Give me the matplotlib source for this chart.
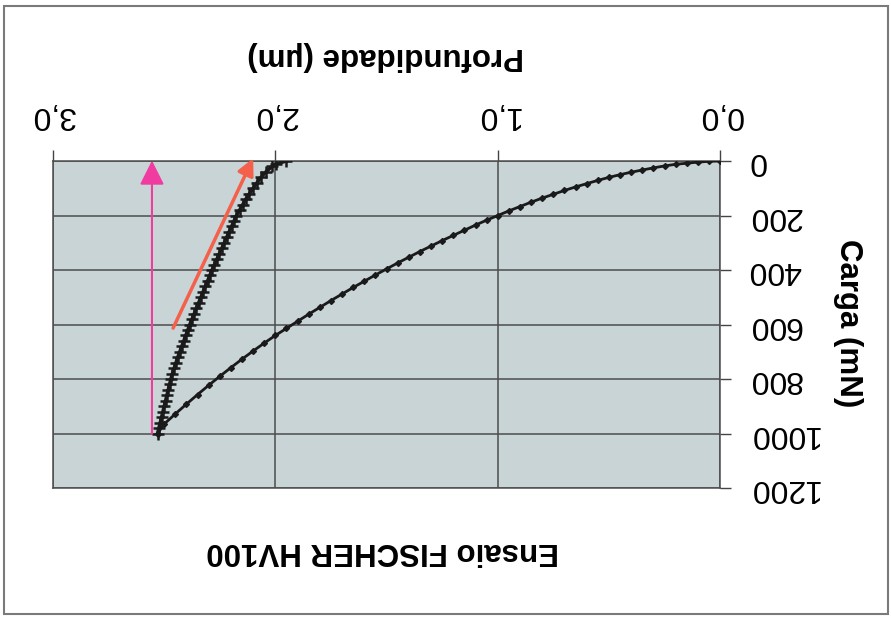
import matplotlib
matplotlib.use('Agg')
import matplotlib.pyplot as plt
from matplotlib.patches import Rectangle

# loading curve (carga crescente): depth in um, load in mN
load_depth = [0.0, 0.05, 0.10, 0.15, 0.20, 0.25, 0.30, 0.35, 0.40, 0.45,
              0.50, 0.55, 0.60, 0.65, 0.70, 0.75, 0.80, 0.85, 0.90, 0.95,
              1.00, 1.05, 1.10, 1.15, 1.20, 1.25, 1.30, 1.35, 1.40, 1.45,
              1.50, 1.55, 1.60, 1.65, 1.70, 1.75, 1.80, 1.85, 1.90, 1.95,
              2.00, 2.05, 2.10, 2.15, 2.20, 2.25, 2.30, 2.35, 2.40, 2.45,
              2.50, 2.53]
load_force = [0, 1, 4, 8, 12, 18, 25, 33, 41, 50,
              60, 71, 83, 95, 108, 122, 136, 151, 167, 183,
              200, 217, 235, 254, 273, 292, 312, 332, 353, 374,
              396, 418, 441, 464, 488, 512, 537, 562, 588, 614,
              640, 668, 697, 727, 758, 790, 823, 857, 892, 928,
              965, 1000]

# unloading curve (descarga)
unload_force = [1000, 980, 960, 940, 920, 900, 880, 860, 840, 820,
                800, 780, 760, 740, 720, 700, 680, 660, 640, 620,
                600, 580, 560, 540, 520, 500, 480, 460, 440, 420,
                400, 380, 360, 340, 320, 300, 280, 260, 240, 220,
                200, 180, 160, 140, 120, 100, 80, 60, 40, 20, 10, 0]
unload_depth = [2.530, 2.524, 2.518, 2.512, 2.506, 2.500, 2.494, 2.488, 2.482, 2.476,
                2.470, 2.463, 2.455, 2.447, 2.439, 2.430, 2.421, 2.412, 2.403, 2.394,
                2.385, 2.375, 2.365, 2.355, 2.345, 2.335, 2.325, 2.315, 2.305, 2.295,
                2.285, 2.274, 2.263, 2.252, 2.241, 2.230, 2.219, 2.208, 2.197, 2.186,
                2.175, 2.161, 2.147, 2.133, 2.117, 2.100, 2.083, 2.065, 2.043, 2.015,
                1.995, 1.950]

x_ticks = [0.0, 1.0, 2.0, 3.0]
x_labels = ['0,0', '1,0', '2,0', '3,0']
y_ticks = [0, 200, 400, 600, 800, 1000, 1200]
y_labels = ['0', '200', '400', '600', '800', '1000', '1200']

plt.rcParams['font.family'] = ['Liberation Sans', 'DejaVu Sans']

fig = plt.figure(figsize=(8.91, 6.17), dpi=100)
fig.patch.set_facecolor('white')
# outer frame of the (scanned) chart
fig.patches.append(Rectangle((0.0045, 0.005), 0.992, 0.985, transform=fig.transFigure,
                             fill=False, edgecolor='#7a7a7a', linewidth=1.5))

ax = fig.add_axes([0.0595, 0.209, 0.7487, 0.530])
ax.set_facecolor('#c9d4d6')

# the whole picture is upside down: flip both axes
ax.set_xlim(3.0, 0.0)
ax.set_ylim(1200, 0)
ax.xaxis.tick_top()
ax.yaxis.tick_right()

ax.plot(load_depth, load_force, color='#1a1a1a', linewidth=2, marker='D',
        markersize=3, zorder=3)
ax.plot(unload_depth, unload_force, color='#1a1a1a', linewidth=2.5, marker='+',
        markersize=8, markeredgewidth=1.8, zorder=3)

# arrows
ax.annotate('', xy=(2.555, -2), xytext=(2.555, 1000), annotation_clip=False,
            arrowprops=dict(arrowstyle='-|>,head_length=1.5,head_width=0.75',
                            color='#f03ca0', linewidth=1.5, shrinkA=0, shrinkB=0), zorder=4)
ax.annotate('', xy=(2.10, -10), xytext=(2.46, 613), annotation_clip=False,
            arrowprops=dict(arrowstyle='-|>,head_length=1.0,head_width=0.5',
                            color='#f4604a', linewidth=2.5, shrinkA=0, shrinkB=0), zorder=4)

ax.set_xticks(x_ticks)
ax.set_xticklabels(x_labels, rotation=180, fontsize=23)
ax.set_yticks(y_ticks)
ax.set_yticklabels(y_labels, rotation=180, fontsize=23, va='center')
ax.tick_params(axis='x', length=8, width=1, color='#444444', pad=14)
ax.tick_params(axis='y', length=8, width=1, color='#444444', pad=12)

ax.grid(True, color='#4d4d4d', linewidth=1.1)
ax.set_axisbelow(True)
for s in ax.spines.values():
    s.set_color('#4d4d4d')
    s.set_linewidth(1.1)

fig.text(0.433, 0.909, 'Profundidade (\u00b5m)', rotation=180, fontsize=22.5,
         fontweight='bold', ha='center', va='center')
fig.text(0.952, 0.476, 'Carga (mN)', rotation=270, fontsize=22.5,
         fontweight='bold', ha='center', va='center')
fig.text(0.429, 0.107, 'Ensaio FISCHER HV100', rotation=180, fontsize=22.5,
         fontweight='bold', ha='center', va='center')

plt.savefig('out.png', dpi=100)
